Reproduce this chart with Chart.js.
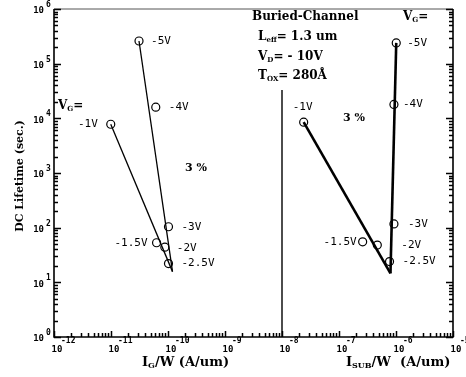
<!DOCTYPE html>
<html>
<head>
<meta charset="utf-8">
<script src="https://cdn.jsdelivr.net/npm/chart.js@4.4.0/dist/chart.umd.min.js"></script>
<style>
  body{margin:0;background:#fff;}
  #wrap{width:466px;height:377px;position:relative;}
</style>
</head>
<body>
<div id="wrap"><canvas id="lifeChart"></canvas></div>
<script>
// gate voltages, same order for both halves
const vgLabels=['-5V','-4V','-3V','-2.5V','-2V','-1.5V','-1V'];
// gate current per width (A/um) and lifetime (sec.)
const igX=[3.1e-11,6.1e-11,1.02e-10,1.02e-10,8.8e-11,6.3e-11,9.9e-12];
const igLife=[2.6e5,1.6e4,104,22,44,53,7.8e3];
// substrate current per width (A/um) and lifetime (sec.)
const isubX=[1.01e-6,9.2e-7,9.2e-7,7.7e-7,4.7e-7,2.6e-7,2.4e-8];
const isubLife=[2.4e5,1.8e4,117,24,48,55,8.5e3];
// fit lines
const igFitAX=[9.9e-12,1.2e-10], igFitAY=[7.8e3,15.7];
const igFitBX=[3.1e-11,1.2e-10], igFitBY=[2.6e5,15.7];
const isubFitAX=[2.4e-8,8.0e-7], isubFitAY=[8.5e3,14.6];
const isubFitBX=[1.01e-6,8.0e-7], isubFitBY=[2.4e5,14.6];
// divider between the two current axes
const dividerX=[1e-8,1e-8], dividerY=[1,3.3e4];
// decades
const xDecades=[-12,-11,-10,-9,-8,-7,-6,-5];
const yDecades=[0,1,2,3,4,5,6];

function pts(xs,ys){return xs.map((x,i)=>({x:x,y:ys[i]}));}

// label offsets in px from their point: [dx, dy, align]
const igLabelPos={'-5V':[12,0,'left'],'-4V':[13,0,'left'],'-3V':[13,0,'left'],'-2.5V':[13,0,'left'],
  '-2V':[12,1,'left'],'-1.5V':[-9,0,'right'],'-1V':[-13,0,'right']};
const isubLabelPos={'-5V':[11,0,'left'],'-4V':[9,0,'left'],'-3V':[14,0,'left'],'-2.5V':[13,0,'left'],
  '-2V':[24,0,'left'],'-1.5V':[-6,0,'right'],'-1V':[-1,-15,'center']};

const SERIF='"DejaVu Serif", "Liberation Serif", serif';
const MONO='"DejaVu Sans Mono", monospace';

function rich(ctx,parts,x,y,size){
  // parts: [text, kind]  kind: n | sub
  let cx=x;
  parts.forEach(p=>{
    let s=p[1]==='sub'?Math.round(size*0.62):size;
    ctx.font='bold '+s+'px '+SERIF;
    ctx.fillText(p[0],cx,p[1]==='sub'?y+3:y);
    cx+=ctx.measureText(p[0]).width;
  });
}

const drawPlugin={
  id:'drawPlugin',
  afterDatasetsDraw(chart){
    const ctx=chart.ctx, xs=chart.scales.x, ys=chart.scales.y, a=chart.chartArea;
    ctx.save();
    ctx.strokeStyle='#000';ctx.fillStyle='#000';
    // frame
    ctx.lineWidth=1.6;
    ctx.beginPath();
    ctx.moveTo(a.left,a.top);ctx.lineTo(a.left,a.bottom);ctx.lineTo(a.right,a.bottom);ctx.lineTo(a.right,a.top);
    ctx.stroke();
    ctx.lineWidth=1;
    ctx.strokeStyle='#555';
    ctx.beginPath();ctx.moveTo(a.left,a.top);ctx.lineTo(a.right,a.top);ctx.stroke();
    ctx.strokeStyle='#000';
    // ticks
    ctx.lineWidth=1.5;
    ctx.beginPath();
    yDecades.forEach(d=>{
      for(let m=1;m<10;m++){
        if(d===6&&m>1)break;
        let py=Math.round(ys.getPixelForValue(m*Math.pow(10,d)))+0.5;
        let len=m===1?7:4;
        ctx.moveTo(a.left,py);ctx.lineTo(a.left+len,py);
        ctx.moveTo(a.right,py);ctx.lineTo(a.right-len,py);
      }
    });
    xDecades.forEach(d=>{
      for(let m=1;m<10;m++){
        if(d===-5&&m>1)break;
        let px=Math.round(xs.getPixelForValue(m*Math.pow(10,d)))+0.5;
        let len=m===1?6:4;
        ctx.moveTo(px,a.bottom);ctx.lineTo(px,a.bottom-len);
      }
    });
    ctx.stroke();
    // tick labels
    ctx.textBaseline='middle';
    yDecades.forEach(d=>{
      let py=ys.getPixelForValue(Math.pow(10,d));
      ctx.font='bold 9px '+MONO;ctx.textAlign='right';
      ctx.fillText('10',44,py+2);
      ctx.font='bold 8px '+MONO;ctx.textAlign='left';
      ctx.fillText(String(d),46,py-4);
    });
    xDecades.forEach(d=>{
      let px=xs.getPixelForValue(Math.pow(10,d));
      ctx.font='bold 9px '+MONO;ctx.textAlign='center';
      ctx.fillText('10',px+3,350);
      ctx.font='bold 8px '+MONO;ctx.textAlign='left';
      ctx.fillText(String(d),px+7,341);
    });
    // point labels
    ctx.font='11px '+MONO;
    [[igX,igLife,igLabelPos],[isubX,isubLife,isubLabelPos]].forEach(s=>{
      vgLabels.forEach((lab,i)=>{
        let o=s[2][lab];
        let px=xs.getPixelForValue(s[0][i]), py=ys.getPixelForValue(s[1][i]);
        ctx.textAlign=o[2];
        ctx.fillText(lab,px+o[0],py+o[1]);
      });
    });
    // annotations
    ctx.textAlign='left';
    rich(ctx,[['Buried-Channel','n']],252,17,12);
    rich(ctx,[['L','n'],['eff','sub'],['= 1.3 um','n']],258,37,12);
    rich(ctx,[['V','n'],['D','sub'],['= - 10V','n']],258,57,12);
    rich(ctx,[['T','n'],['OX','sub'],['= 280Å','n']],258,76,12);
    rich(ctx,[['V','n'],['G','sub'],['=','n']],403,17,12);
    rich(ctx,[['V','n'],['G','sub'],['=','n']],58,106,12);
    rich(ctx,[['3 %','n']],185,168,11);
    rich(ctx,[['3 %','n']],343,118,11);
    // axis titles
    rich(ctx,[['I','n'],['G','sub'],['/W (A/um)','n']],142,363,13);
    rich(ctx,[['I','n'],['SUB','sub'],['/W  (A/um)','n']],346,363,13);
    ctx.save();
    ctx.translate(20,176);ctx.rotate(-Math.PI/2);
    ctx.textAlign='center';
    ctx.font='bold 11px '+SERIF;
    ctx.fillText('DC Lifetime (sec.)',0,0);
    ctx.restore();
    ctx.restore();
  }
};

function fit(xs,ys,w){
  return {data:pts(xs,ys),showLine:true,borderColor:'#000',borderWidth:w,pointRadius:0,fill:false};
}
function marks(xs,ys){
  return {data:pts(xs,ys),showLine:false,pointStyle:'circle',pointRadius:4,
    borderColor:'#000',borderWidth:1.2,backgroundColor:'rgba(0,0,0,0)'};
}

new Chart(document.getElementById('lifeChart').getContext('2d'),{
  type:'scatter',
  data:{datasets:[
    fit(igFitAX,igFitAY,1.3),
    fit(igFitBX,igFitBY,1.3),
    fit(isubFitAX,isubFitAY,2.6),
    fit(isubFitBX,isubFitBY,2.6),
    fit(dividerX,dividerY,1.4),
    marks(igX,igLife),
    marks(isubX,isubLife)
  ]},
  options:{
    responsive:true,maintainAspectRatio:false,animation:false,
    layout:{padding:{left:54,right:13,top:9,bottom:40}},
    plugins:{legend:{display:false},tooltip:{enabled:false}},
    scales:{
      x:{type:'logarithmic',min:1e-12,max:1e-5,display:false},
      y:{type:'logarithmic',min:1,max:1e6,display:false}
    }
  },
  plugins:[drawPlugin]
});
</script>
</body>
</html>
